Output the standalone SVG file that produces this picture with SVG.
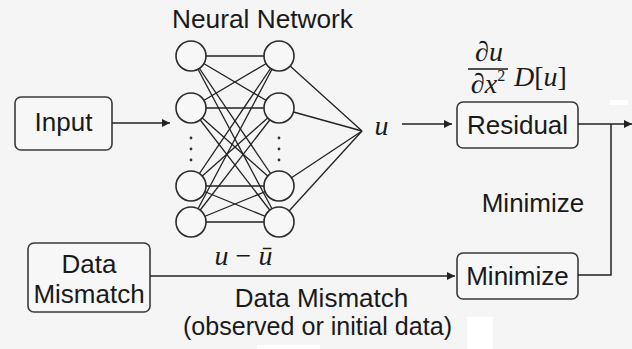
<svg xmlns="http://www.w3.org/2000/svg" width="632" height="349" viewBox="0 0 632 349">
  <style>
    .bg { fill: #f5f5f5; }
    .box { fill: #f7f7f7; stroke: #3a3a3a; stroke-width: 1.6; }
    .neuron { fill: #f7f7f7; stroke: #2a2a2a; stroke-width: 1.6; }
    .edge { stroke: #222; stroke-width: 1.3; fill: none; }
    .conn { stroke: #222; stroke-width: 1.5; fill: none; }
    .lbl { font-family: "Liberation Sans", Arial, Helvetica, sans-serif; font-size: 26px; fill: #1a1a1a; }
    .math { font-family: "Liberation Serif", "DejaVu Serif", serif; font-style: italic; font-size: 28px; fill: #1a1a1a; }
    .up { font-style: normal; }
    .dot { fill: #333; }
    .patch { fill: #ffffff; }
  </style>
  <defs>
    <marker id="arrow" viewBox="0 0 10 10" refX="10" refY="5" markerUnits="userSpaceOnUse" markerWidth="10" markerHeight="8" orient="auto">
      <path d="M0,0 L10,5 L0,10 z" fill="#222"/>
    </marker>
  </defs>

  <rect class="bg" x="0" y="0" width="632" height="349"/>
  <rect class="patch" x="610" y="100" width="18" height="5"/>
  <rect class="patch" x="467" y="317" width="26" height="32"/>
  <rect class="patch" x="257" y="345" width="63" height="4"/>

  <!-- network weights (fully connected 4x4) and output fan-in -->
  <g id="weights">
    <line class="edge" x1="191" y1="56" x2="279" y2="56"/>
    <line class="edge" x1="191" y1="56" x2="279" y2="108"/>
    <line class="edge" x1="191" y1="56" x2="279" y2="186"/>
    <line class="edge" x1="191" y1="56" x2="279" y2="222"/>
    <line class="edge" x1="191" y1="108" x2="279" y2="56"/>
    <line class="edge" x1="191" y1="108" x2="279" y2="108"/>
    <line class="edge" x1="191" y1="108" x2="279" y2="186"/>
    <line class="edge" x1="191" y1="108" x2="279" y2="222"/>
    <line class="edge" x1="191" y1="186" x2="279" y2="56"/>
    <line class="edge" x1="191" y1="186" x2="279" y2="108"/>
    <line class="edge" x1="191" y1="186" x2="279" y2="186"/>
    <line class="edge" x1="191" y1="186" x2="279" y2="222"/>
    <line class="edge" x1="191" y1="222" x2="279" y2="56"/>
    <line class="edge" x1="191" y1="222" x2="279" y2="108"/>
    <line class="edge" x1="191" y1="222" x2="279" y2="186"/>
    <line class="edge" x1="191" y1="222" x2="279" y2="222"/>
    <line class="edge" x1="279" y1="56" x2="362" y2="131"/>
    <line class="edge" x1="279" y1="108" x2="362" y2="131"/>
    <line class="edge" x1="279" y1="186" x2="362" y2="131"/>
    <line class="edge" x1="279" y1="222" x2="362" y2="131"/>
  </g>

  <g id="network">
    <text class="lbl" x="262.5" y="28" text-anchor="middle" textLength="181" lengthAdjust="spacingAndGlyphs">Neural Network</text>
    <circle class="neuron" cx="191" cy="56" r="15"/>
    <circle class="neuron" cx="191" cy="108" r="15"/>
    <circle class="neuron" cx="191" cy="186" r="15"/>
    <circle class="neuron" cx="191" cy="222" r="15"/>
    <circle class="neuron" cx="279" cy="56" r="15"/>
    <circle class="neuron" cx="279" cy="108" r="15"/>
    <circle class="neuron" cx="279" cy="186" r="15"/>
    <circle class="neuron" cx="279" cy="222" r="15"/>
    <circle class="dot" cx="191" cy="138" r="1.4"/>
    <circle class="dot" cx="191" cy="149" r="1.4"/>
    <circle class="dot" cx="191" cy="160" r="1.4"/>
    <circle class="dot" cx="279" cy="138" r="1.4"/>
    <circle class="dot" cx="279" cy="149" r="1.4"/>
    <circle class="dot" cx="279" cy="160" r="1.4"/>
    <text class="math" x="243.5" y="265" text-anchor="middle" font-size="30">u <tspan class="up">−</tspan> ū</text>
  </g>

  <g id="output-u">
    <text class="math" x="381.5" y="135" text-anchor="middle" font-size="32">u</text>
  </g>

  <g id="input">
    <rect class="box" x="15" y="97" width="97" height="53" rx="6"/>
    <text class="lbl" x="63.5" y="131" text-anchor="middle" font-size="27">Input</text>
  </g>

  <g id="residual">
    <rect class="box" x="457" y="102" width="121" height="46" rx="6"/>
    <text class="lbl" x="517.5" y="134" text-anchor="middle" font-size="25.5">Residual</text>
  </g>

  <!-- PDE operator: fraction d u / d x^2 followed by D[u] -->
  <g id="pde-operator">
    <text class="math" x="489" y="61" text-anchor="middle"><tspan class="up">∂</tspan>u</text>
    <line x1="468" y1="69" x2="508" y2="69" stroke="#1a1a1a" stroke-width="1.3"/>
    <text class="math" x="488" y="93" text-anchor="middle"><tspan class="up">∂</tspan>x<tspan class="up" font-size="16" dy="-12">2</tspan></text>
    <text class="math" x="514" y="86">D<tspan class="up">[</tspan>u<tspan class="up">]</tspan></text>
  </g>

  <g id="minimize-label">
    <text class="lbl" x="533" y="212" text-anchor="middle" font-size="25.5">Minimize</text>
  </g>

  <g id="data-mismatch">
    <rect class="box" x="28" y="243" width="122" height="69" rx="6"/>
    <text class="lbl" x="89" y="273" text-anchor="middle">Data</text>
    <text class="lbl" x="89" y="303" text-anchor="middle">Mismatch</text>
  </g>

  <g id="minimize">
    <rect class="box" x="457" y="253" width="121" height="46" rx="6"/>
    <text class="lbl" x="517.5" y="285" text-anchor="middle" font-size="25.5">Minimize</text>
  </g>

  <g id="data-caption">
    <text class="lbl" x="321.5" y="307" text-anchor="middle" font-size="26.5">Data Mismatch</text>
    <text class="lbl" x="317.5" y="335" text-anchor="middle" textLength="269" lengthAdjust="spacingAndGlyphs">(observed or initial data)</text>
  </g>

  <!-- connectors -->
  <g id="connectors">
    <line class="conn" x1="112" y1="123" x2="170" y2="123" marker-end="url(#arrow)"/>
    <line class="conn" x1="402" y1="124" x2="452" y2="124" marker-end="url(#arrow)"/>
    <line class="conn" x1="150" y1="276" x2="455" y2="276" marker-end="url(#arrow)"/>
    <line class="conn" x1="578" y1="124" x2="632" y2="124" marker-end="url(#arrow)"/>
    <polyline class="conn" points="611,124 611,275 578,275"/>
  </g>
</svg>
